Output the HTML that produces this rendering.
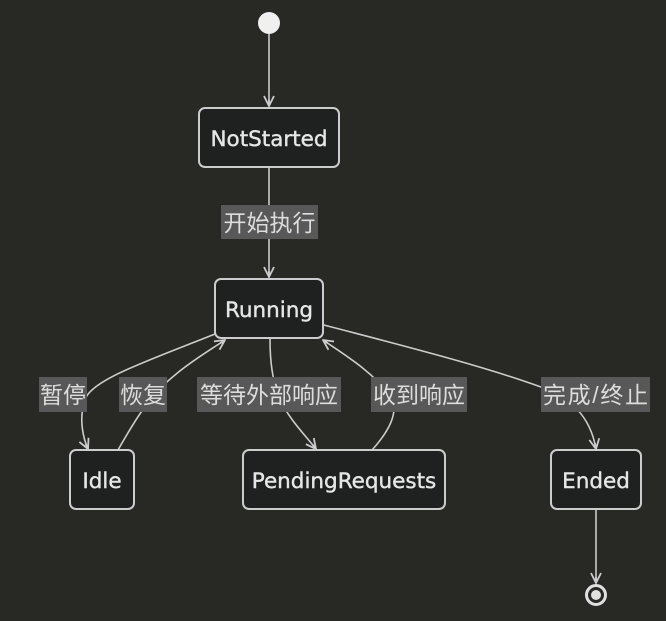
<!DOCTYPE html>
<html><head><meta charset="utf-8"><style>
html,body{margin:0;padding:0;background:#282824;}
svg{display:block}
text{font-family:"DejaVu Sans","Liberation Sans","Noto Sans CJK SC",sans-serif;fill:#e6e6e6;}
.n{fill:#1f2020;stroke:#cccccc;stroke-width:2}
.e{fill:none;stroke:#cccccc;stroke-width:1.6}
.lb{fill:#585858}
.t{font-size:23px;font-family:"Liberation Sans","Noto Sans CJK SC",sans-serif;fill:#dddddd}
.nt{font-size:21.5px;stroke:#e6e6e6;stroke-width:0.4}
</style></head><body>
<svg width="666" height="621" viewBox="0 0 666 621" xmlns="http://www.w3.org/2000/svg">
<defs>
<marker id="a" viewBox="0 0 12 12" refX="11" refY="6" markerWidth="12" markerHeight="12" markerUnits="userSpaceOnUse" orient="auto">
<path d="M1,1 L11,6 L1,11 M11,6 L5,6" fill="none" stroke="#cccccc" stroke-width="1.8"/>
</marker>
</defs>
<circle cx="269" cy="23" r="11" fill="#f0f0f0"/>
<path class="e" d="M269,34 L269,106" marker-end="url(#a)"/>
<path class="e" d="M269,168 L269,277" marker-end="url(#a)"/>
<path class="e" d="M215,334 C150,360 90,380 85,400 C78,420 84,440 88,449" marker-end="url(#a)"/>
<path class="e" d="M118,450 C135,420 150,395 175,375 C190,362 210,350 225,340" marker-end="url(#a)"/>
<path class="e" d="M270,339 C270,360 272,380 280,400 C290,420 305,435 316,449" marker-end="url(#a)"/>
<path class="e" d="M372,450 C390,430 400,410 390,395 C370,370 345,355 323,340" marker-end="url(#a)"/>
<path class="e" d="M324,325 C400,345 480,365 541,387 C570,398 590,415 596,449" marker-end="url(#a)"/>
<path class="e" d="M596,510 L596,583" marker-end="url(#a)"/>
<rect class="lb" x="221" y="205" width="97" height="34"/>
<text class="t" x="269.5" y="231" text-anchor="middle">开始执行</text>
<rect class="lb" x="39" y="377" width="48" height="35"/>
<text class="t" x="63" y="403" text-anchor="middle">暂停</text>
<rect class="lb" x="119" y="377" width="48" height="35"/>
<text class="t" x="143" y="403" text-anchor="middle">恢复</text>
<rect class="lb" x="197" y="377" width="144" height="35"/>
<text class="t" x="269" y="403" text-anchor="middle">等待外部响应</text>
<rect class="lb" x="371" y="377" width="96" height="35"/>
<text class="t" x="419" y="403" text-anchor="middle">收到响应</text>
<rect class="lb" x="541" y="377" width="109" height="35"/>
<text class="t" x="595.5" y="403" text-anchor="middle" textLength="105">完成/终止</text>
<rect class="n" x="199" y="108" width="140" height="59" rx="6"/>
<text class="nt" x="269" y="146" text-anchor="middle">NotStarted</text>
<rect class="n" x="215" y="279" width="108" height="59" rx="6"/>
<text class="nt" x="269" y="317" text-anchor="middle">Running</text>
<rect class="n" x="70" y="450" width="64" height="59" rx="6"/>
<text class="nt" x="102" y="488" text-anchor="middle">Idle</text>
<rect class="n" x="243" y="450" width="202" height="59" rx="6"/>
<text class="nt" x="344" y="488" text-anchor="middle">PendingRequests</text>
<rect class="n" x="551" y="450" width="90" height="59" rx="6"/>
<text class="nt" x="596" y="488" text-anchor="middle">Ended</text>
<circle cx="596" cy="595" r="9.5" fill="none" stroke="#e0e0e0" stroke-width="3"/>
<circle cx="596" cy="595" r="5" fill="#e0e0e0"/>
</svg>
</body></html>
